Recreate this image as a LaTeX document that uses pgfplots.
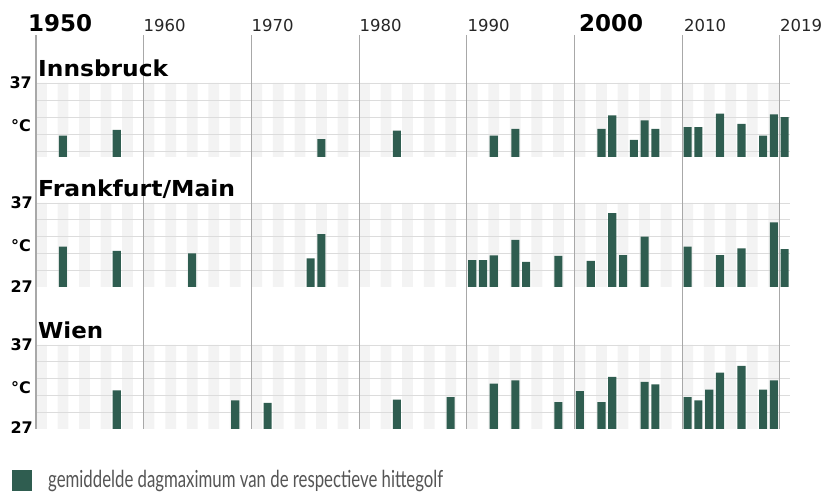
\documentclass[border=0pt]{standalone}
\usepackage{pgfplots}
\usepackage{pgfplotstable}
\pgfplotsset{compat=1.18}
\usepackage{fontspec}
\setmainfont{DejaVu Sans}
\newfontfamily\legfont{Lato}
\definecolor{bar}{HTML}{2F5D50}
\definecolor{stripe}{HTML}{F3F3F3}
\definecolor{gridc}{HTML}{DCDCDC}
\definecolor{vline}{HTML}{A8A8A8}
\definecolor{legtext}{HTML}{555555}

\pgfplotstableread{
year top
1950 37
1952 37
1954 37
1956 37
1958 37
1960 37
1962 37
1964 37
1966 37
1968 37
1970 37
1972 37
1974 37
1976 37
1978 37
1980 37
1982 37
1984 37
1986 37
1988 37
1990 37
1992 37
1994 37
1996 37
1998 37
2000 37
2002 37
2004 37
2006 37
2008 37
2010 37
2012 37
2014 37
2016 37
2018 37
}\stripetab

\pgfplotstableread{
year val
1952 30.8
1957 31.5
1976 30.4
1983 31.4
1992 30.8
1994 31.6
2002 31.6
2003 33.2
2005 30.3
2006 32.6
2007 31.6
2010 31.8
2011 31.8
2013 33.4
2015 32.2
2017 30.8
2018 33.3
2019 33.0
}\innsbruck

\pgfplotstableread{
year val
1952 31.8
1957 31.3
1964 31.0
1975 30.4
1976 33.3
1990 30.2
1991 30.2
1992 30.75
1994 32.6
1995 30.0
1998 30.7
2001 30.1
2003 35.8
2004 30.8
2006 33.0
2010 31.8
2013 30.8
2015 31.6
2018 34.7
2019 31.5
}\frankfurt

\pgfplotstableread{
year val
1957 31.6
1968 30.4
1971 30.1
1983 30.5
1988 30.8
1992 32.4
1994 32.8
1998 30.2
2000 31.5
2002 30.2
2003 33.2
2006 32.6
2007 32.3
2010 30.8
2011 30.4
2012 31.7
2013 33.7
2015 34.5
2017 31.7
2018 32.8
}\wien

\pgfplotsset{
  panel/.style={
    scale only axis,
    width=754pt,
    xmin=1950, xmax=2020,
    ymax=37,
    axis line style={draw=none},
    tick style={draw=none},
    xtick=\empty,
    ytick=\empty,
    clip=true,
  },
  bars/.style={
    ybar, bar width=0.75, fill=bar, draw=none,
    x filter/.expression={x+0.5},
  },
  stripebars/.style={
    ybar, bar width=1, fill=stripe, draw=none,
    x filter/.expression={x+0.5},
  },
}

\newcommand{\hgrid}[1]{%
  \pgfplotsinvokeforeach{#1}{\draw[gridc, line width=0.9pt] (axis cs:1950,##1) -- (axis cs:2020,##1);}}

\begin{document}
\begin{tikzpicture}[x=1pt,y=1pt]
\path (0,0) rectangle (825,491);

% Innsbruck
\begin{axis}[panel, at={(36pt,334pt)}, height=74pt, ymin=28.3]
\addplot[stripebars] table[x=year,y=top] {\stripetab};
\hgrid{29,31,33,35,37}
\addplot[bars] table[x=year,y=val] {\innsbruck};
\end{axis}

% Frankfurt
\begin{axis}[panel, at={(36pt,204pt)}, height=84pt, ymin=27]
\addplot[stripebars] table[x=year,y=top] {\stripetab};
\hgrid{27,29,31,33,35,37}
\addplot[bars] table[x=year,y=val] {\frankfurt};
\end{axis}

% Wien
\begin{axis}[panel, at={(36pt,62pt)}, height=84pt, ymin=27]
\addplot[stripebars] table[x=year,y=top] {\stripetab};
\hgrid{27,29,31,33,35,37}
\addplot[bars] table[x=year,y=val] {\wien};
\end{axis}

% decade lines
\foreach \yr in {1950,1960,1970,1980,1990,2000,2010,2019} {
  \draw[vline, line width=1.1pt] ({36+(\yr-1950)*10.7714},456) -- ({36+(\yr-1950)*10.7714},62);
}

% year labels
\node[anchor=base west, inner sep=0pt, font=\fontsize{23}{23}\selectfont\bfseries] at (28,459.5) {1950};
\node[anchor=base west, inner sep=0pt, font=\fontsize{23}{23}\selectfont\bfseries] at (579,459.5) {2000};
\foreach \yr/\xx in {1960/143.5,1970/251.5,1980/359.5,1990/467.5,2010/684,2019/780} {
  \node[anchor=base west, inner sep=0pt, font=\fontsize{16.5}{16.5}\selectfont, text=black!85] at (\xx,459.5) {\yr};
}

% panel titles
\node[anchor=base west, inner sep=0pt] at (38,414) {\resizebox{130pt}{\height}{\fontsize{22}{22}\selectfont\bfseries Innsbruck}};
\node[anchor=base west, inner sep=0pt] at (38,294) {\resizebox{197pt}{\height}{\fontsize{22}{22}\selectfont\bfseries Frankfurt/Main}};
\node[anchor=base west, inner sep=0pt] at (38,152) {\resizebox{65pt}{\height}{\fontsize{22}{22}\selectfont\bfseries Wien}};

% y labels
\tikzset{ylab/.style={anchor=east, inner sep=0pt, font=\fontsize{16}{16}\selectfont\bfseries}}
\node[ylab] at (32,408) {37};
\node[ylab] at (31,365) {°C};
\node[ylab] at (33,288) {37};
\node[ylab] at (31,245) {°C};
\node[ylab] at (33,204) {27};
\node[ylab] at (33,146) {37};
\node[ylab] at (31,103) {°C};
\node[ylab] at (33,63) {27};

% legend
\fill[bar] (12,0) rectangle (32,21);
\node[anchor=base west, inner sep=0pt, text=legtext] at (48,3.3) {\resizebox{395pt}{\height}{\legfont\fontsize{23.5}{23.5}\selectfont gemiddelde dagmaximum van de respectieve hittegolf}};
\end{tikzpicture}
\end{document}
